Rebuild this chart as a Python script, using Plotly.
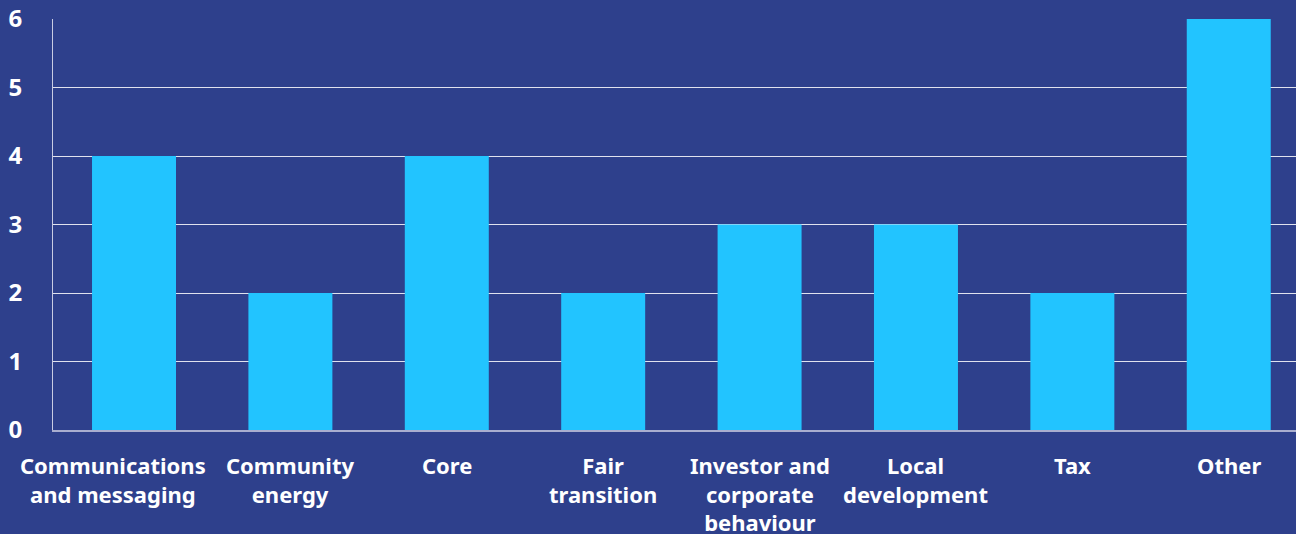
import plotly.graph_objects as go

# Number of items per theme
categories = [
    "Communications and messaging",
    "Community energy",
    "Core",
    "Fair transition",
    "Investor and corporate behaviour",
    "Local development",
    "Tax",
    "Other",
]
label_lines = [
    "Communications<br>and messaging",
    "Community<br>energy",
    "Core",
    "Fair<br>transition",
    "Investor and<br>corporate<br>behaviour",
    "Local<br>development",
    "Tax",
    "Other",
]
counts = [4, 2, 4, 2, 3, 3, 2, 6]
y_ticks = [0, 1, 2, 3, 4, 5, 6]

BG = "#2E408C"
BAR = "#22C4FF"
FONT = "Noto Sans"

fig = go.Figure(
    go.Bar(
        x=categories,
        y=counts,
        marker=dict(color=BAR, line=dict(width=0)),
        hoverinfo="skip",
    )
)

# Category labels drawn as annotations so the long first one can be
# nudged left and not collide with its neighbour
for i, (cat, txt) in enumerate(zip(categories, label_lines)):
    fig.add_annotation(
        x=cat,
        y=0,
        xref="x",
        yref="paper",
        yanchor="top",
        xanchor="center",
        yshift=-18,
        xshift=-21 if i == 0 else 0,
        text=txt,
        align="center",
        showarrow=False,
        font=dict(family=FONT, size=22, color="white", weight="bold"),
    )

fig.update_layout(
    width=1296,
    height=534,
    paper_bgcolor=BG,
    plot_bgcolor=BG,
    margin=dict(l=53, r=0, t=19, b=104),
    bargap=0.463,
    showlegend=False,
    font=dict(family=FONT, color="white"),
)

fig.update_xaxes(
    type="category",
    range=[-0.518, 7.43],
    showgrid=False,
    showline=True,
    linecolor="#A9AECF",
    linewidth=2,
    ticks="",
    showticklabels=False,
    automargin=False,
)

fig.update_yaxes(
    range=[0, 6],
    tickvals=y_ticks,
    ticktext=[str(v) for v in y_ticks],
    showgrid=True,
    gridcolor="rgba(255,255,255,0.85)",
    gridwidth=1,
    zeroline=False,
    showline=True,
    linecolor="#C9CCE3",
    linewidth=1,
    ticks="",
    automargin=False,
    ticklabelstandoff=25,
    tickfont=dict(family=FONT, size=24, color="white", weight="bold"),
)

fig.write_html("out.html")
